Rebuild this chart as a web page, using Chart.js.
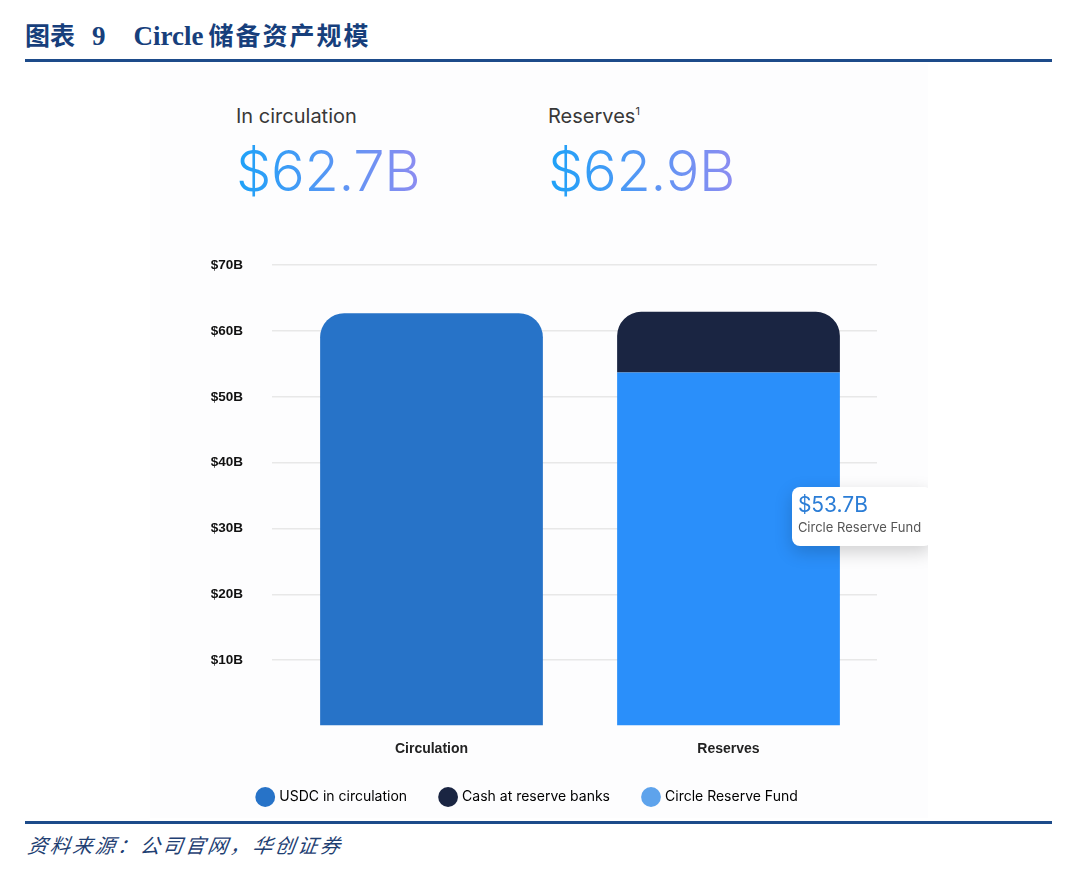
<!DOCTYPE html>
<html>
<head>
<meta charset="utf-8">
<script src="https://cdn.jsdelivr.net/npm/chart.js@4/dist/chart.umd.min.js"></script>
<style>
  body { margin: 0; background: #fff; width: 1080px; height: 872px; position: relative; overflow: hidden; }
  .title { position: absolute; left: 25px; top: 16px; font: bold 25px "Noto Sans CJK SC", sans-serif; color: #173f7c; white-space: nowrap; }
  .title .lat { font-family: "Liberation Serif", serif; font-size: 27px; }
  .rule { position: absolute; left: 25px; width: 1027px; height: 3px; background: #1d4b8a; }
  .panel { position: absolute; left: 150px; top: 64px; width: 778px; height: 754px; background: #fdfdfe; overflow: hidden; }
  .head { position: absolute; font-family: Inter, "Open Sans", sans-serif; }
  .head .lbl { font-size: 20px; color: #383838; font-weight: 400; }
  .head .lbl sup { font-size: 11px; }
  .head .big { font-size: 56px; font-weight: 300; line-height: 1; margin-top: 15px; letter-spacing: -0.3px;
    background: linear-gradient(90deg, #1da2f8, #8d8cf1); -webkit-background-clip: text; background-clip: text; color: transparent; }
  #c { position: absolute; left: 0; top: 164px; }
  #note { position: absolute; width: 140px; height: 59px; background: #fff; border-radius: 8px; box-shadow: 0 6px 18px rgba(0,0,0,0.18);
    font-family: Inter, sans-serif; box-sizing: border-box; padding: 6px 0 0 6px; }
  #note .v { font-size: 21px; color: #2b7dd6; line-height: 24px; }
  #note .t { font-size: 13px; color: #555; line-height: 20px; white-space: nowrap; }
  .src { position: absolute; left: 28px; top: 830px; font: italic 20px "Noto Sans CJK SC", sans-serif; color: #1f3f73; letter-spacing: 2.5px; transform: skewX(-8deg); transform-origin: left; }
</style>
</head>
<body>
<div class="title"><span>图表</span><span class="lat" style="margin-left:17px">9</span><span class="lat" style="margin-left:28px">Circle</span><span style="margin-left:5px; letter-spacing:2px">储备资产规模</span></div>
<div class="rule" style="top:59px"></div>
<div class="panel">
  <div class="head" style="left:86px; top:40px"><div class="lbl">In circulation</div><div class="big">$62.7B</div></div>
  <div class="head" style="left:398px; top:40px"><div class="lbl">Reserves<sup>1</sup></div><div class="big">$62.9B</div></div>
  <canvas id="c" width="756" height="586"></canvas>
  <div id="note"><div class="v">$53.7B</div><div class="t">Circle Reserve Fund</div></div>
</div>
<div class="rule" style="top:821px"></div>
<div class="src">资料来源：公司官网，华创证券</div>
<script>
const categories = ['Circulation', 'Reserves'];
const usdcInCirculation = [62.7, null];
const circleReserveFund = [null, 53.7];
const cashAtReserveBanks = [null, 9.2];
const yTicks = [0, 10, 20, 30, 40, 50, 60, 70];

const legendItems = [
  { text: 'USDC in circulation', color: '#2773c8' },
  { text: 'Cash at reserve banks', color: '#1a2542' },
  { text: 'Circle Reserve Fund', color: '#5ea3ec' }
];

const CANVAS_TOP = 164;

// place the callout box beside the reserve fund bar
const notePlugin = {
  id: 'note',
  afterDraw(chart) {
    const bar = chart.getDatasetMeta(1).data[1];
    const y = chart.scales.y.getPixelForValue(31.8);
    const note = document.getElementById('note');
    note.style.left = (bar.x + bar.width / 2 - 48) + 'px';
    note.style.top = (CANVAS_TOP + y - 30) + 'px';
  }
};

new Chart(document.getElementById('c'), {
  type: 'bar',
  data: {
    labels: categories,
    datasets: [
      { label: 'USDC in circulation', data: usdcInCirculation, backgroundColor: '#2773c8', borderRadius: { topLeft: 24, topRight: 24 }, borderSkipped: false },
      { label: 'Circle Reserve Fund', data: circleReserveFund, backgroundColor: '#2a8ffa', borderRadius: 0 },
      { label: 'Cash at reserve banks', data: cashAtReserveBanks, backgroundColor: '#1a2542', borderRadius: { topLeft: 24, topRight: 24 }, borderSkipped: false }
    ]
  },
  options: {
    responsive: false,
    animation: false,
    layout: { padding: { left: 29, right: 29, top: 14, bottom: 0 } },
    datasets: { bar: { barPercentage: 0.75, categoryPercentage: 1 } },
    scales: {
      x: {
        stacked: true,
        afterFit(scale) { scale.height = 30; },
        grid: { display: false },
        border: { display: false },
        ticks: { color: '#222', font: { family: 'Liberation Sans', size: 14, weight: 'bold' }, padding: 7 }
      },
      y: {
        stacked: true,
        min: 0, max: 70,
        afterFit(scale) { scale.width = 104; },
        afterBuildTicks(scale) { scale.ticks = yTicks.map(v => ({ value: v })); },
        grid: { color: ctx => ctx.tick && ctx.tick.value === 0 ? 'rgba(0,0,0,0)' : '#e8e8e8', lineWidth: 1.5, tickLength: 11, drawTicks: true },
        border: { display: false },
        ticks: {
          color: '#111', padding: 29,
          font: { family: 'Liberation Sans', size: 13.5, weight: 'bold' },
          callback: v => v === 0 ? '' : '$' + v + 'B'
        }
      }
    },
    plugins: {
      tooltip: { enabled: false },
      legend: {
        position: 'bottom',
        labels: {
          usePointStyle: true, pointStyle: 'circle', boxWidth: 17, boxHeight: 17,
          padding: 34, color: '#333',
          font: { family: 'Inter', size: 14 },
          generateLabels: () => legendItems.map(it => ({
            text: it.text, fillStyle: it.color, strokeStyle: it.color, lineWidth: 0, pointStyle: 'circle', hidden: false
          }))
        }
      }
    }
  },
  plugins: [notePlugin]
});
</script>
</body>
</html>
